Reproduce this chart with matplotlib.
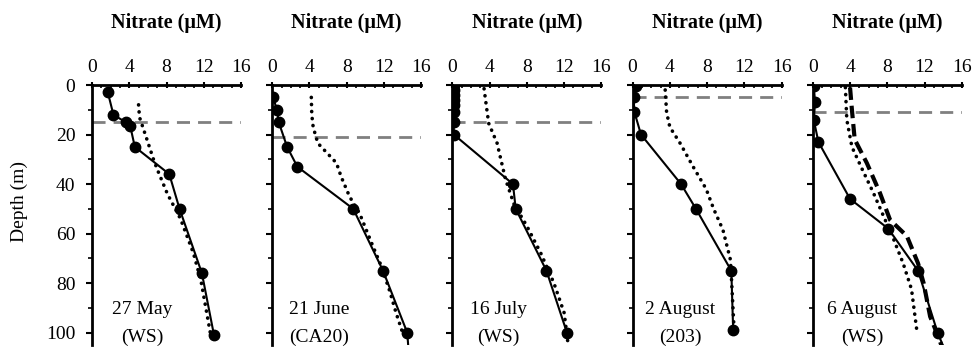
import numpy as np
import matplotlib
matplotlib.use("Agg")
import matplotlib.pyplot as plt
from matplotlib.ticker import MultipleLocator

plt.rcParams['font.family'] = ['Liberation Serif', 'DejaVu Serif']

# panel labels
dates = ["27 May", "21 June", "16 July", "2 August", "6 August"]
stations = ["(WS)", "(CA20)", "(WS)", "(203)", "(WS)"]

# bottle nitrate (solid line with dots): depth (m), nitrate (uM)
bottle_depth = [
    [3, 12, 15, 16.5, 25, 36, 50, 76, 101],
    [5, 10, 15, 25, 33, 50, 75, 100, 110],
    [0, 2, 4, 6, 8, 11, 15, 20, 40, 50, 75, 100],
    [0.5, 5, 11, 20, 40, 50, 75, 99],
    [0.5, 7, 14, 23, 46, 58, 75, 100, 110],
]
bottle_no3 = [
    [1.7, 2.3, 3.6, 4.1, 4.6, 8.3, 9.4, 11.8, 13.1],
    [0.1, 0.5, 0.7, 1.6, 2.7, 8.7, 11.9, 14.5, 14.7],
    [0.15, 0.15, 0.15, 0.15, 0.15, 0.15, 0.15, 0.15, 6.5, 6.8, 10.1, 12.3],
    [0.4, 0.1, 0.2, 0.9, 5.2, 6.8, 10.6, 10.8],
    [0.1, 0.25, 0.1, 0.6, 4.0, 8.1, 11.3, 13.4, 14.5],
]

# sensor nitrate profile (dotted)
sensor_depth = [
    [8, 13, 22, 30, 34, 44, 54, 68, 79, 100],
    [5, 12, 17, 23.5, 31.5, 37, 45, 52, 65, 73, 83, 92, 100],
    [1.5, 10, 15.5, 23.5, 30, 38, 48, 57, 68, 80, 92, 104],
    [2, 11, 17, 23.5, 33, 42, 50, 58.5, 70.5, 77, 99],
    [1, 14, 25, 34, 43.5, 53, 62.5, 72, 82.5, 100],
]
sensor_no3 = [
    [5.0, 5.1, 5.9, 6.6, 7.0, 8.1, 9.5, 10.9, 11.7, 12.7],
    [4.2, 4.25, 4.4, 4.9, 6.9, 7.4, 8.3, 9.4, 10.8, 11.7, 12.6, 13.3, 14.0],
    [3.4, 3.7, 3.9, 4.8, 5.2, 5.7, 6.6, 8.0, 9.5, 10.9, 12.0, 12.4],
    [3.5, 3.65, 4.0, 5.1, 6.5, 7.9, 8.7, 9.7, 10.5, 10.6, 10.9],
    [3.5, 3.65, 4.2, 5.3, 6.5, 7.6, 8.7, 9.7, 10.6, 11.2],
]

# second profile on 6 August (thick dashed)
extra_depth = [1, 10, 22, 31.5, 43.5, 54.5, 61, 72, 80, 93.5, 100, 110]
extra_no3 = [4.0, 4.2, 4.5, 5.8, 7.2, 8.3, 10.1, 11.3, 11.9, 12.6, 13.3, 14.3]

# mixed layer depth (grey dashed)
mld = [15, 21, 15, 5, 11]

label_x = [5.4, 5.0, 4.9, 5.1, 5.3]

fig = plt.figure(figsize=(9.72, 3.47), dpi=100)
W, H = 972.0, 347.0

for i in range(5):
    left = (92 + 180.2 * i) / W
    ax = fig.add_axes([left, 2 / H, 149 / W, 260 / H])

    # mixed layer depth
    ax.plot([0, 16], [mld[i], mld[i]], color='#808080', lw=2.0,
            dashes=(4.7, 2.9), zorder=1)
    # sensor profile
    ax.plot(sensor_no3[i], sensor_depth[i], color='black', lw=2.6,
            linestyle=(0, (0.05, 1.9)), dash_capstyle='round', zorder=2)
    if i == 4:
        ax.plot(extra_no3, extra_depth, color='black', lw=3.0,
                dashes=(3.0, 1.4), zorder=2)
    # bottle samples
    ax.plot(bottle_no3[i], bottle_depth[i], color='black', lw=1.5,
            marker='o', markersize=7.5, zorder=3)

    ax.set_xlim(0, 16)
    ax.set_ylim(105, 0)
    for s in ['right', 'bottom']:
        ax.spines[s].set_visible(False)
    for s in ['left', 'top']:
        ax.spines[s].set_linewidth(2.0)

    ax.xaxis.set_major_locator(MultipleLocator(4))
    ax.xaxis.set_minor_locator(MultipleLocator(1))
    ax.yaxis.set_major_locator(MultipleLocator(20))
    ax.yaxis.set_minor_locator(MultipleLocator(10))
    ax.xaxis.tick_top()
    ax.tick_params(axis='x', which='major', direction='inout', length=5,
                   width=1.5, pad=4, labelsize=14)
    ax.tick_params(axis='x', which='minor', direction='in', length=2.5,
                   width=1.2)
    ax.tick_params(axis='y', which='major', direction='out', length=4,
                   width=1.5, pad=8, labelsize=14)
    ax.tick_params(axis='y', which='minor', direction='out', length=3,
                   width=1.2)
    if i > 0:
        ax.tick_params(axis='y', labelleft=False)
    else:
        ax.set_ylabel("Depth (m)", fontsize=14)
        ax.yaxis.set_label_coords(-0.43, 0.55)

    ax.text(0.5, 1.219, "Nitrate (\u03bcM)", transform=ax.transAxes,
            ha='center', va='baseline', fontsize=14.5, fontweight='bold')
    ax.text(label_x[i], 90.7, dates[i], ha='center', va='center', fontsize=14)
    ax.text(label_x[i], 102, stations[i], ha='center', va='center', fontsize=14)

fig.savefig("out.png", dpi=100)
